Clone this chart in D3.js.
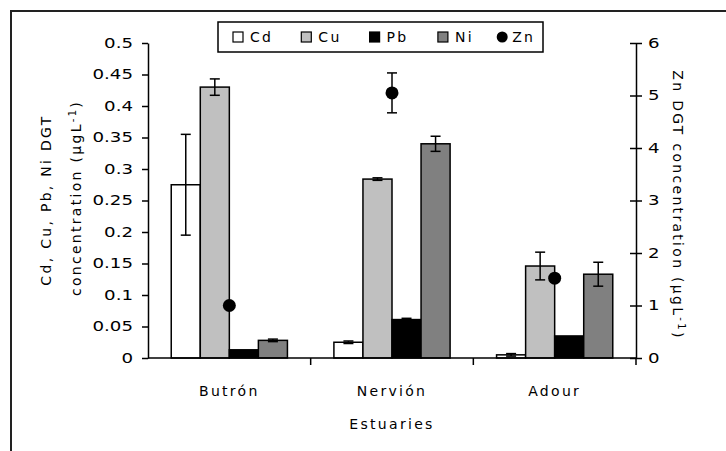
<!DOCTYPE html>
<html lang="en">
<head>
    <meta charset="UTF-8">
    <title>DGT concentrations</title>
    <script src="https://d3js.org/d3.v7.min.js"></script>
    <style>
        body { margin: 0; background: #fff; }
        text { font-family: "DejaVu Sans", sans-serif; font-size: 14px; letter-spacing: 2.3px; fill: #000; }
        .tick text { letter-spacing: 0; }
    </style>
</head>
<body>
<script>

    // data
    var estuaries = ["Butrón", "Nervión", "Adour"];
    var metals = ["Cd", "Cu", "Pb", "Ni"];
    var barColors = ["#ffffff", "#c0c0c0", "#000000", "#808080"];

    var cdVals = [0.275, 0.025, 0.005];
    var cuVals = [0.430, 0.284, 0.146];
    var pbVals = [0.013, 0.061, 0.035];
    var niVals = [0.028, 0.340, 0.133];

    var cdErr = [0.080, 0.002, 0.002];
    var cuErr = [0.013, 0.002, 0.022];
    var pbErr = [0.000, 0.002, 0.000];
    var niErr = [0.002, 0.012, 0.019];

    var znVals = [1.00, 5.05, 1.52];
    var znErr = [0.00, 0.38, 0.00];

    var leftTicks = [0, 0.05, 0.1, 0.15, 0.2, 0.25, 0.3, 0.35, 0.4, 0.45, 0.5];
    var rightTicks = [0, 1, 2, 3, 4, 5, 6];

    var barVals = [cdVals, cuVals, pbVals, niVals];
    var barErrs = [cdErr, cuErr, pbErr, niErr];

    var W = 726, H = 451;
    var plot = {left: 148, right: 636, top: 43, bottom: 358};

    var svg = d3.select('body')
        .append('svg')
        .attr('width', W)
        .attr('height', H);

    // outer frame (cut off by the picture at right and bottom)
    svg.append('rect')
        .attr('x', 11).attr('y', 11)
        .attr('width', 800).attr('height', 600)
        .attr('fill', 'none')
        .attr('stroke', '#222')
        .attr('stroke-width', 2);

    var x = d3.scaleBand()
        .domain(estuaries)
        .range([plot.left, plot.right]);

    var xSub = d3.scaleBand()
        .domain(metals)
        .range([0, x.bandwidth()])
        .paddingOuter(0.8);

    var yL = d3.scaleLinear().domain([0, 0.5]).range([plot.bottom, plot.top]);
    var yR = d3.scaleLinear().domain([0, 6]).range([plot.bottom, plot.top]);

    // bars
    var rows = [];
    estuaries.forEach(function (e, i) {
        metals.forEach(function (m, j) {
            rows.push({est: e, metal: m, j: j, v: barVals[j][i], err: barErrs[j][i]});
        });
    });

    svg.append('g').selectAll('rect')
        .data(rows)
        .enter()
        .append('rect')
          .attr('x', function (d) { return x(d.est) + xSub(d.metal); })
          .attr('y', function (d) { return yL(d.v); })
          .attr('width', xSub.bandwidth())
          .attr('height', function (d) { return yL(0) - yL(d.v); })
          .attr('fill', function (d) { return barColors[d.j]; })
          .attr('stroke', '#000')
          .attr('stroke-width', 1.5);

    // error bars
    var cap = 5;
    var eb = svg.append('g').attr('stroke', '#000').attr('stroke-width', 1.5);
    function errBar(cx, y1, y2) {
        eb.append('line').attr('x1', cx).attr('x2', cx).attr('y1', y1).attr('y2', y2);
        eb.append('line').attr('x1', cx - cap).attr('x2', cx + cap).attr('y1', y1).attr('y2', y1);
        eb.append('line').attr('x1', cx - cap).attr('x2', cx + cap).attr('y1', y2).attr('y2', y2);
    }
    rows.filter(function (d) { return d.err > 0; }).forEach(function (d) {
        var cx = x(d.est) + xSub(d.metal) + xSub.bandwidth() / 2;
        errBar(cx, yL(d.v + d.err), yL(d.v - d.err));
    });

    // Zn points on the right axis
    estuaries.forEach(function (e, i) {
        if (znErr[i] > 0) {
            errBar(x(e) + x.bandwidth() / 2, yR(znVals[i] + znErr[i]), yR(znVals[i] - znErr[i]));
        }
    });
    svg.append('g').selectAll('circle')
        .data(estuaries)
        .enter()
        .append('circle')
          .attr('cx', function (d) { return x(d) + x.bandwidth() / 2; })
          .attr('cy', function (d, i) { return yR(znVals[i]); })
          .attr('r', 6.5)
          .attr('fill', '#000');

    // left axis
    var axL = svg.append('g')
        .attr('transform', 'translate(' + plot.left + ',0)')
        .call(d3.axisLeft(yL).tickValues(leftTicks).tickFormat(d3.format('')).tickSize(6).tickSizeOuter(0));

    // right axis, ticks crossing the line
    var axR = svg.append('g')
        .attr('transform', 'translate(' + plot.right + ',0)')
        .call(d3.axisRight(yR).tickValues(rightTicks).tickFormat(d3.format('d')).tickSize(6).tickSizeOuter(0));
    axR.selectAll('.tick line').attr('x1', -6);

    // the original digits are wide: stretch them horizontally
    axL.selectAll('.tick text').attr('x', null).attr('transform', 'translate(-15,0) scale(1.3,1)');
    axR.selectAll('.tick text').attr('x', null).attr('transform', 'translate(12,0) scale(1.3,1)');

    // x axis line with ticks at the group boundaries
    var axX = svg.append('g');
    axX.append('line')
        .attr('x1', plot.left).attr('x2', plot.right)
        .attr('y1', plot.bottom).attr('y2', plot.bottom);
    axX.selectAll('.bt')
        .data(estuaries.slice(1).concat(['end']))
        .enter()
        .append('line')
          .attr('class', 'bt')
          .attr('x1', function (d) { return d === 'end' ? plot.right : x(d); })
          .attr('x2', function (d) { return d === 'end' ? plot.right : x(d); })
          .attr('y1', plot.bottom).attr('y2', plot.bottom + 7);
    axX.selectAll('line').attr('stroke', '#000').attr('stroke-width', 1.5);

    [axL, axR].forEach(function (a) {
        a.attr('font-size', null).attr('font-family', null);
        a.select('.domain').attr('stroke', '#000').attr('stroke-width', 1.5);
        a.selectAll('.tick line').attr('stroke', '#000').attr('stroke-width', 1.5);
        a.selectAll('text').attr('fill', '#000');
    });

    svg.append('g').selectAll('text')
        .data(estuaries)
        .enter()
        .append('text')
          .attr('x', function (d) { return x(d) + x.bandwidth() / 2; })
          .attr('y', 396)
          .attr('text-anchor', 'middle')
          .text(function (d) { return d; });

    // axis titles
    svg.append('text')
        .attr('x', (plot.left + plot.right) / 2)
        .attr('y', 429)
        .attr('text-anchor', 'middle')
        .text('Estuaries');

    svg.append('text')
        .attr('transform', 'translate(51,200) rotate(-90)')
        .attr('text-anchor', 'middle')
        .text('Cd, Cu, Pb, Ni DGT');
    var tl2 = svg.append('text')
        .attr('transform', 'translate(81,198) rotate(-90)')
        .attr('text-anchor', 'middle');
    tl2.append('tspan').text('concentration (µgL');
    tl2.append('tspan').attr('baseline-shift', 'super').attr('font-size', '10px').text('-1');
    tl2.append('tspan').text(')');

    var tr = svg.append('text')
        .attr('transform', 'translate(673,205) rotate(90)')
        .attr('text-anchor', 'middle');
    tr.append('tspan').text('Zn DGT concentration (µgL');
    tr.append('tspan').attr('baseline-shift', 'super').attr('font-size', '10px').text('-1');
    tr.append('tspan').text(')');

    // legend
    var leg = svg.append('g');
    leg.append('rect')
        .attr('x', 218).attr('y', 22)
        .attr('width', 325).attr('height', 30)
        .attr('fill', '#fff')
        .attr('stroke', '#000')
        .attr('stroke-width', 1.5);
    var legItems = metals.concat(['Zn']);
    var li = leg.selectAll('.li')
        .data(legItems)
        .enter()
        .append('g')
          .attr('class', 'li')
          .attr('transform', function (d, i) { return 'translate(' + (233 + i * 68.3) + ',37)'; });
    li.filter(function (d) { return d !== 'Zn'; })
        .append('rect')
          .attr('x', 0).attr('y', -5)
          .attr('width', 10).attr('height', 10)
          .attr('fill', function (d, i) { return barColors[i]; })
          .attr('stroke', '#000')
          .attr('stroke-width', 1.2);
    li.filter(function (d) { return d === 'Zn'; })
        .append('circle')
          .attr('cx', -4).attr('cy', 0).attr('r', 5.5)
          .attr('fill', '#000');
    li.append('text')
        .attr('x', function (d) { return d === 'Zn' ? 6 : 17; })
        .attr('y', 5)
        .text(function (d) { return d; });

</script>
</body>
</html>
